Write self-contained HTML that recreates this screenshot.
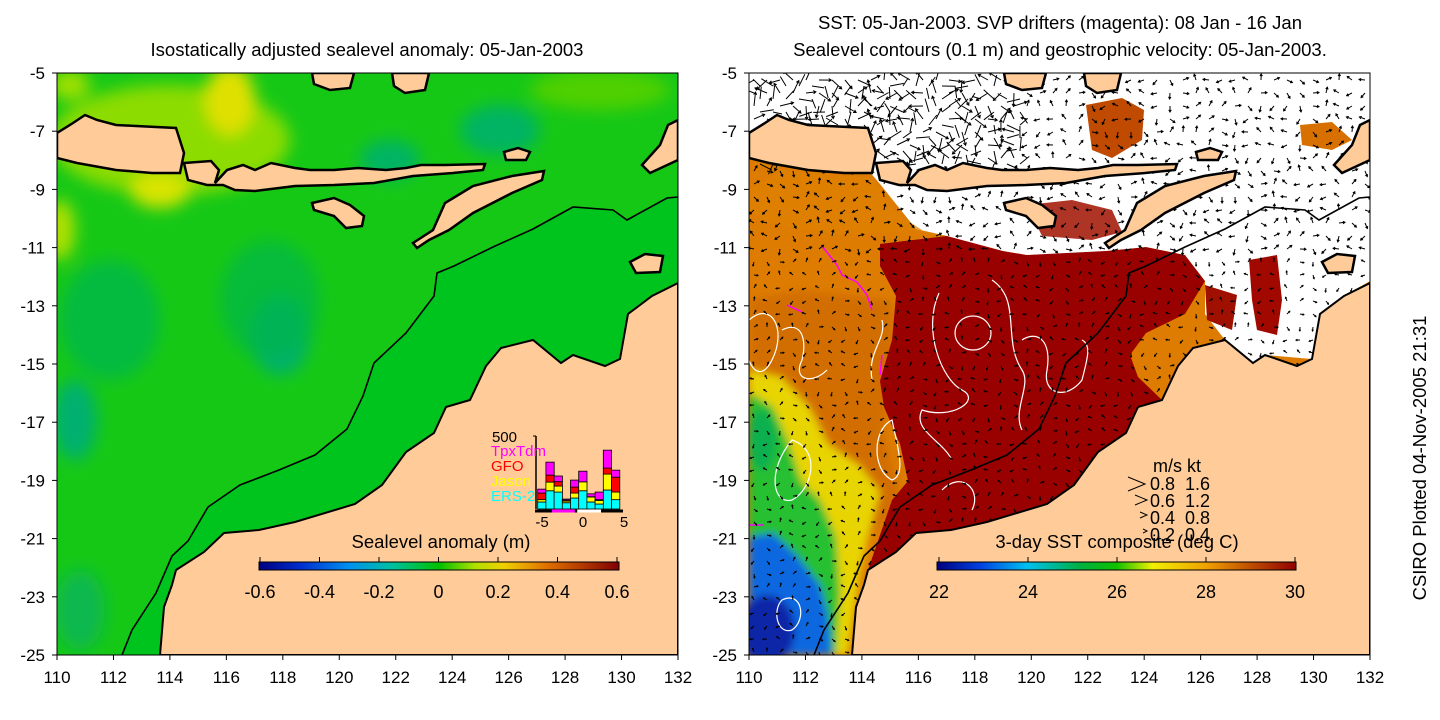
<!DOCTYPE html>
<html><head><meta charset="utf-8"><style>
html,body{margin:0;padding:0;background:#fff;width:1440px;height:720px;overflow:hidden}
svg{display:block;font-family:"Liberation Sans",Arial,sans-serif}
</style></head><body>
<svg id="root" width="1440" height="720" viewBox="0 0 1440 720">
<defs>
<filter id="blur8" x="-20%" y="-20%" width="140%" height="140%"><feGaussianBlur stdDeviation="8"/></filter>
<filter id="blur4" x="-20%" y="-20%" width="140%" height="140%"><feGaussianBlur stdDeviation="4"/></filter>
<clipPath id="clipL"><rect x="57" y="73" width="621" height="582"/></clipPath>
<linearGradient id="gradL" x1="0" x2="1" y1="0" y2="0">
<stop offset="0" stop-color="#000080"/><stop offset="0.12" stop-color="#0030d0"/><stop offset="0.25" stop-color="#0090f0"/><stop offset="0.37" stop-color="#00c0a0"/><stop offset="0.5" stop-color="#00c000"/><stop offset="0.6" stop-color="#b0e000"/><stop offset="0.68" stop-color="#f0d000"/><stop offset="0.8" stop-color="#e07000"/><stop offset="1" stop-color="#800000"/>
</linearGradient>
<linearGradient id="gradR" x1="0" x2="1" y1="0" y2="0">
<stop offset="0" stop-color="#000080"/><stop offset="0.12" stop-color="#0040e0"/><stop offset="0.25" stop-color="#00c0f0"/><stop offset="0.4" stop-color="#00b040"/><stop offset="0.5" stop-color="#10c000"/><stop offset="0.6" stop-color="#f0f000"/><stop offset="0.75" stop-color="#f0a000"/><stop offset="0.87" stop-color="#c05000"/><stop offset="1" stop-color="#900000"/>
</linearGradient>
<path id="australia" d="M678,283 L652,296 L628,314 L620,359 L605,366 L573,355 L561,363 L533,340 L501,348 L486,366 L470,400 L446,407 L434,433 L406,452 L382,485 L355,504 L295,522 L259,530 L224,533 L204,552 L176,570 L172,585 L164,607 L160,655 L678,655 Z"/>
<g id="islands">
<path d="M57,133 L73,123 L85,115 L97,120 L116,125 L136,126 L176,128 L184,153 L180,173 L152,173 L116,170 L77,163 L57,158 Z"/>
<path d="M184,163 L211,161 L219,170 L215,183 L227,170 L243,165 L255,170 L271,163 L295,168 L310,170 L334,170 L358,168 L386,170 L406,168 L421,165 L445,165 L485,164 L483,170 L453,173 L413,176 L374,183 L334,185 L295,186 L255,191 L235,190 L223,185 L207,185 L188,180 Z"/>
<path d="M312,203 L334,198 L350,205 L364,216 L362,226 L346,228 L334,216 L314,210 Z"/>
<path d="M413,243 L433,230 L445,203 L473,186 L512,176 L544,171 L542,180 L512,193 L473,213 L449,230 L429,240 L417,248 Z"/>
<path d="M504,152 L518,148 L530,152 L526,160 L506,160 Z"/>
<path d="M312,73 L354,73 L350,88 L330,90 L314,84 Z"/>
<path d="M392,73 L429,73 L425,90 L405,93 L394,86 Z"/>
<path d="M668,125 L678,120 L678,160 L650,173 L642,165 L660,145 Z"/>
<path d="M630,262 L645,254 L663,256 L660,272 L636,273 Z"/>
</g>
<path id="shelf" d="M678,197 L667,198 L627,220 L613,210 L573,207 L533,229 L493,247 L454,266 L437,273 L434,296 L406,333 L374,363 L363,396 L347,429 L315,455 L279,470 L240,485 L208,507 L188,541 L172,556 L156,593 L132,630 L122,655"/>
</defs>

<!-- LEFT PANEL -->
<text x="367" y="56" font-size="18.5" text-anchor="middle">Isostatically adjusted sealevel anomaly: 05-Jan-2003</text>
<g clip-path="url(#clipL)">
<rect x="57" y="73" width="621" height="582" fill="#16c816"/>
<g filter="url(#blur8)">
<ellipse cx="170" cy="140" rx="120" ry="55" fill="#8cdc00"/>
<ellipse cx="230" cy="100" rx="25" ry="35" fill="#e0e000"/>
<ellipse cx="160" cy="190" rx="30" ry="18" fill="#d8e400"/>
<ellipse cx="70" cy="85" rx="20" ry="15" fill="#a0e000"/>
<ellipse cx="280" cy="335" rx="30" ry="40" fill="#00b070"/>
<ellipse cx="270" cy="300" rx="50" ry="60" fill="#05b64a" opacity="0.7"/>
<ellipse cx="75" cy="420" rx="22" ry="40" fill="#00b070"/>
<ellipse cx="110" cy="320" rx="50" ry="60" fill="#06b84a" opacity="0.8"/>
<ellipse cx="500" cy="130" rx="40" ry="25" fill="#00b464"/>
<ellipse cx="390" cy="160" rx="30" ry="20" fill="#00b464"/>
<ellipse cx="80" cy="610" rx="25" ry="40" fill="#08b850"/>
<ellipse cx="600" cy="90" rx="70" ry="20" fill="#50d000"/>
<ellipse cx="60" cy="230" rx="15" ry="30" fill="#b0e000"/>
</g>
<path d="M678,197 L667,198 L627,220 L613,210 L573,207 L533,229 L493,247 L454,266 L437,273 L434,296 L406,333 L374,363 L363,396 L347,429 L315,455 L279,470 L240,485 L208,507 L188,541 L172,556 L156,593 L132,630 L122,655 L678,655 Z" fill="#00c41e"/>
<use href="#australia" fill="#ffcc99" stroke="#000" stroke-width="2"/>
<use href="#islands" fill="#ffcc99" stroke="#000" stroke-width="2.5"/>
<use href="#shelf" fill="none" stroke="#000" stroke-width="1.6"/>
</g>
<rect x="57" y="73" width="621" height="582" fill="none" stroke="#000" stroke-width="1"/>
<g id="axesL" font-size="17"></g>

<g id="hist"></g>

<text x="441" y="548" font-size="18.5" text-anchor="middle">Sealevel anomaly (m)</text>
<rect x="259" y="562" width="360" height="8" fill="url(#gradL)" stroke="#000" stroke-width="1"/>
<g id="cbL" font-size="18"></g>

<!-- RIGHT PANEL -->
<text x="1060" y="29" font-size="18.5" text-anchor="middle">SST: 05-Jan-2003. SVP drifters (magenta): 08 Jan - 16 Jan</text>
<text x="1060" y="56" font-size="18.5" text-anchor="middle">Sealevel contours (0.1 m) and geostrophic velocity: 05-Jan-2003.</text>
<g transform="translate(692,0)">
<g clip-path="url(#clipL)">
<rect x="57" y="73" width="621" height="582" fill="#dd7c00"/>
<g filter="url(#blur4)">
<path d="M110,290 L200,300 L205,380 L190,430 L210,500 L175,540 L90,520 L60,470 L57,300 Z" fill="#d06a00" opacity="0.8"/>
<path d="M57,370 L89,377 L117,407 L136,444 L168,466 L188,492 L176,537 L168,574 L156,655 L57,655 Z" fill="#e8d400"/>
<path d="M57,392 L81,407 L97,444 L109,481 L128,500 L144,537 L148,593 L144,655 L57,655 Z" fill="#28c030"/>
<path d="M57,537 L81,533 L105,556 L128,585 L136,615 L140,655 L57,655 Z" fill="#1068e0"/>
<ellipse cx="75" cy="630" rx="28" ry="35" fill="#0828a8"/>
<ellipse cx="70" cy="440" rx="14" ry="30" fill="#10b050"/>
</g>
<path d="M188,244 L255,236 L311,251 L335,255 L374,251 L414,251 L454,247 L493,255 L513,281 L493,314 L454,333 L438,355 L446,377 L470,400 L446,407 L434,433 L406,452 L382,485 L355,504 L295,522 L259,530 L224,533 L204,552 L176,570 L200,500 L216,481 L208,444 L192,407 L188,381 L200,340 L204,296 L188,266 Z" fill="#990000"/>
<path d="M57,73 L678,73 L678,281 L652,296 L628,314 L620,359 L573,355 L561,363 L533,340 L513,314 L513,281 L493,255 L454,247 L414,251 L335,255 L311,251 L255,236 L224,229 L188,184 L176,170 L57,158 Z" fill="#ffffff"/>
<path d="M557,260 L585,255 L590,300 L585,335 L565,330 L560,300 Z" fill="#a00800"/>
<path d="M513,285 L545,295 L540,330 L515,320 Z" fill="#a01000"/>
<path d="M394,105 L430,98 L452,110 L450,140 L420,158 L400,150 Z" fill="#c04a00"/>
<path d="M608,125 L640,122 L660,140 L640,150 L610,145 Z" fill="#d87000"/>
<path d="M335,205 L380,200 L420,210 L430,232 L400,240 L350,236 Z" fill="#a01000" opacity="0.85"/>
<path d="M90,170 L180,178 L200,210 L230,230 L150,235 L80,225 L57,210 L57,190 Z" fill="#e08000" opacity="0.7"/>
<g id="contours" fill="none" stroke="#fff" stroke-width="1.2">
<ellipse cx="281" cy="333" rx="18" ry="17"/>
<path d="M247,293 C230,330 250,380 270,390 C290,400 260,420 230,410 C220,430 250,440 260,460"/>
<path d="M300,280 C330,300 310,340 330,370 C340,385 320,410 330,430"/>
<path d="M330,340 C345,330 360,340 355,370 C350,395 375,400 390,380 C395,360 400,345 390,340"/>
<path d="M90,330 C110,320 115,340 110,360 C100,380 120,385 135,370"/>
<path d="M200,420 C180,430 180,470 200,480 C215,475 205,445 200,420 Z"/>
<path d="M100,440 C130,450 120,490 100,500 C80,505 75,470 100,440 Z"/>
<path d="M90,600 C110,590 115,620 100,630 C85,635 80,610 90,600 Z"/>
<path d="M57,320 C80,300 95,330 80,360 C70,380 60,370 57,360"/>
<path d="M180,380 C175,350 195,340 190,320"/>
<path d="M250,490 C270,470 290,490 280,510"/>
</g>
<g stroke="#ff00ff" stroke-width="1.5" fill="none">
<path d="M130,246 L145,265 L150,275 L165,282 L175,295 L180,310"/>
<path d="M95,305 L110,312"/>
<path d="M190,355 L188,375"/>
<path d="M57,525 L72,525"/>
</g>
<g id="arrows" stroke="#000" stroke-width="1" fill="none"></g>
<use href="#australia" fill="#ffcc99" stroke="#000" stroke-width="2"/>
<use href="#islands" fill="#ffcc99" stroke="#000" stroke-width="2.5"/>
<use href="#shelf" fill="none" stroke="#000" stroke-width="1.6"/>
</g>
<rect x="57" y="73" width="621" height="582" fill="none" stroke="#000" stroke-width="1"/>
</g>
<g id="axesR" font-size="17"></g>

<g font-size="18">
<text x="1153" y="472">m/s</text>
<text x="1187" y="472">kt</text>
<path d="M1128,477 L1145,484 L1128,491" fill="none" stroke="#000"/>
<text x="1150" y="490">0.8</text>
<text x="1185" y="490">1.6</text>
<path d="M1135,495 L1147,500 L1135,505" fill="none" stroke="#000"/>
<text x="1150" y="507">0.6</text>
<text x="1185" y="507">1.2</text>
<path d="M1140,512 L1147,515 L1140,518" fill="none" stroke="#000"/>
<text x="1150" y="524">0.4</text>
<text x="1185" y="524">0.8</text>
<path d="M1143,529 L1147,531 L1143,533" fill="none" stroke="#000"/>
<text x="1150" y="541">0.2</text>
<text x="1185" y="541">0.4</text>
</g>
<text x="1117" y="548" font-size="18.5" text-anchor="middle">3-day SST composite (deg C)</text>
<rect x="937" y="562" width="359" height="8" fill="url(#gradR)" stroke="#000" stroke-width="1"/>
<g id="cbR" font-size="18"></g>

<text transform="translate(1426,458) rotate(-90)" font-size="18.5" text-anchor="middle">CSIRO Plotted 04-Nov-2005 21:31</text>
</svg>
<script>
const NS='http://www.w3.org/2000/svg';
const lonTicks=[110,112,114,116,118,120,122,124,126,128,130,132];
const latTicks=[-5,-7,-9,-11,-13,-15,-17,-19,-21,-23,-25];
const slaTicks=[-0.6,-0.4,-0.2,0,0.2,0.4,0.6];
const sstTicks=[22,24,26,28,30];
// histogram data (counts per bin), bins -5..4
const histBins=[-5,-4,-3,-2,-1,0,1,2,3,4];
const ers2=[48,125,116,43,75,125,48,34,130,64];
const jason=[16,59,41,11,34,61,34,25,109,52];
const gfo=[45,48,30,7,41,0,2,5,41,102];
const tpx=[27,89,39,7,48,73,20,52,123,48];

function el(tag,attrs,parent){const e=document.createElementNS(NS,tag);for(const k in attrs)e.setAttribute(k,attrs[k]);parent.appendChild(e);return e;}
function lonX(lon,off){return off+57+(lon-110)*621/22;}
function latY(lat){return 73+(-5-lat)*582/20;}

function axes(id,off,lblX){
  const g=document.getElementById(id);
  lonTicks.forEach(l=>{
    const x=lonX(l,off);
    const t=el('text',{x:x,y:683,'text-anchor':'middle'},g);t.textContent=String(l);
    
    
    el('line',{x1:x,y1:655,x2:x,y2:660,stroke:'#000'},g);
  });
  latTicks.forEach(l=>{
    const y=latY(l);
    const t=el('text',{x:lblX,y:y+6,'text-anchor':'end'},g);t.textContent=String(l);
    
    
    el('line',{x1:off+52,y1:y,x2:off+57,y2:y,stroke:'#000'},g);
  });
}
axes('axesL',0,45);
axes('axesR',692,737);

function cbar(id,ticks,x0,x1){
  const g=document.getElementById(id);
  const v0=ticks[0],v1=ticks[ticks.length-1];
  ticks.forEach(v=>{
    const x=x0+(v-v0)/(v1-v0)*(x1-x0);
    el('line',{x1:x,y1:557,x2:x,y2:562,stroke:'#000'},g);
    const t=el('text',{x:x,y:598,'text-anchor':'middle'},g);
    t.textContent=(Math.abs(v)<1e-9?'0':String(v));
    
    
  });
}
cbar('cbL',slaTicks,260,617);
cbar('cbR',sstTicks,939,1295);

(function(){
  const g=document.getElementById('hist');
  const y0=509, ymax=500, hpx=73;
  const hx=v=>542+(v+5)*8.2;
  const hy=c=>c*hpx/ymax;
  el('line',{x1:536,y1:436,x2:536,y2:y0,stroke:'#000','stroke-width':1.5},g);
  el('line',{x1:533,y1:436,x2:536,y2:436,stroke:'#000'},g);
  el('line',{x1:535,y1:511,x2:623,y2:511,stroke:'#000','stroke-width':3},g);
  el('line',{x1:hx(-3.8),y1:511,x2:hx(-1),y2:511,stroke:'#ff00ff','stroke-width':3},g);
  el('line',{x1:hx(-0.7),y1:511,x2:hx(2.2),y2:511,stroke:'#fff','stroke-width':3},g);
  const series=[[ers2,'#00ffff'],[jason,'#ffff00'],[gfo,'#ff0000'],[tpx,'#ff00ff']];
  histBins.forEach((b,i)=>{
    let base=0;
    series.forEach(([arr,c])=>{
      const h=hy(arr[i]);
      const r=el('rect',{x:hx(b)-4.3,y:y0-base-h,width:8.3,height:h,fill:c,stroke:'#000','stroke-width':0.8},g);
      
      
      base+=h;
    });
  });
  [-5,0,5].forEach(v=>{
    const t=el('text',{x:hx(v),y:527,'text-anchor':'middle','font-size':15},g);t.textContent=String(v);
    
    
  });
  const labs=[['500','#000',442],['TpxTdm','#ff00ff',456],['GFO','#ff0000',471],['Jason','#ffff00',486],['ERS-2','#00ffff',501]];
  labs.forEach(([s,c,y])=>{
    const t=el('text',{x:s==='500'?517:491,y:y,fill:c,'font-size':15,'text-anchor':s==='500'?'end':'start'},g);t.textContent=s;
    
    
  });
})();

(function(){
  const g=document.getElementById('arrows');
  let d='';
  for(let y=80;y<655;y+=13){
    for(let x=62;x<678;x+=13){
      const top=(y<160&&x<330);
      const a=Math.sin(x*0.041+y*0.023)*2.4+Math.cos(y*0.057-x*0.013)*1.7;
      const L=top?9+5*Math.abs(Math.sin(x*0.11+y*0.07)):(y<260?6:4);
      const dx=Math.cos(a)*L, dy=Math.sin(a)*L;
      const x2=x+dx,y2=y+dy;
      d+='M'+x.toFixed(1)+','+y.toFixed(1)+'L'+x2.toFixed(1)+','+y2.toFixed(1);
      const b1=a+2.6,b2=a-2.6,h=Math.min(3,L*0.4);
      d+='M'+(x2+Math.cos(b1)*h).toFixed(1)+','+(y2+Math.sin(b1)*h).toFixed(1)+'L'+x2.toFixed(1)+','+y2.toFixed(1)+'L'+(x2+Math.cos(b2)*h).toFixed(1)+','+(y2+Math.sin(b2)*h).toFixed(1);
      if(top){
        const x3=x+6,y3=y+6,a2=a+1.3;
        d+='M'+x3+','+y3+'L'+(x3+Math.cos(a2)*L).toFixed(1)+','+(y3+Math.sin(a2)*L).toFixed(1);
      }
    }
  }
  el('path',{d:d},g);
})();
</script>
</body></html>
